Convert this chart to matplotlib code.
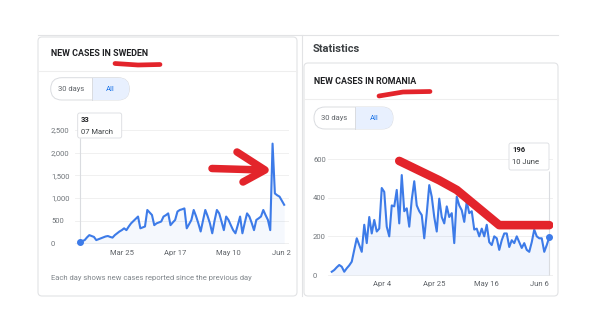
import matplotlib.pyplot as plt
from matplotlib.patches import FancyBboxPatch, Rectangle

W, H = 600, 334

# daily new cases, Sweden, starting 07 March
sweden_cases = [
    33, 50, 70, 130, 180, 160, 140, 70, 90, 110,
    130, 150, 160, 140, 125, 180, 220, 260, 290, 330,
    290, 370, 440, 490, 540, 590, 330, 350, 370, 735,
    680, 625, 400, 440, 460, 480, 590, 620, 660, 400,
    460, 515, 700, 735, 750, 770, 330, 420, 515, 735,
    600, 440, 260, 500, 735, 600, 440, 220, 500, 735,
    660, 480, 290, 590, 515, 400, 290, 220, 400, 590,
    220, 450, 660, 590, 450, 290, 515, 550, 590, 735,
    620, 515, 290, 2200, 1100, 1060, 1030, 940, 850,
]
sweden_days = list(range(len(sweden_cases)))
sweden_tick_days = [18, 41, 64, 87]
sweden_tick_labels = ["Mar 25", "Apr 17", "May 10", "Jun 2"]
sweden_yticks = [0, 500, 1000, 1500, 2000, 2500]
sweden_ylabels = ["0", "500", "1,000", "1,500", "2,000", "2,500"]

# daily new cases, Romania, starting 15 March
romania_cases = [
    17, 26, 40, 52, 43, 17, 35, 50, 69, 130,
    190, 155, 120, 260, 165, 300, 215, 285, 225, 240,
    450, 430, 250, 200, 360, 355, 440, 267, 517, 330,
    345, 250, 390, 485, 360, 330, 310, 190, 320, 465,
    405, 300, 225, 395, 300, 267, 355, 300, 320, 165,
    405, 360, 335, 275, 380, 320, 330, 235, 240, 200,
    240, 200, 260, 170, 155, 200, 190, 130, 180, 215,
    215, 145, 180, 165, 200, 170, 140, 165, 130, 120,
    170, 235, 200, 190, 190, 120, 155, 196,
]
romania_days = list(range(len(romania_cases)))
romania_tick_days = [20, 41, 62, 83]
romania_tick_labels = ["Apr 4", "Apr 25", "May 16", "Jun 6"]
romania_yticks = [0, 200, 400, 600]
romania_ylabels = ["0", "200", "400", "600"]

# hand-drawn trend over the Romania series (day, cases)
trend_days = [27, 43, 50, 67, 87]
trend_cases = [590, 490, 440, 258, 258]

BLUE = "#3d7be8"
RED = "#e3242b"
BORDER = "#e2e3e5"
GREY = "#70757a"
FONT = "Roboto"


def px_axes(fig, x0, y0, x1, y1, zorder):
    ax = fig.add_axes([x0 / W, 1 - y1 / H, (x1 - x0) / W, (y1 - y0) / H], zorder=zorder)
    ax.set_facecolor("none")
    return ax


def pill(ax, x0, y0, x1, y1):
    r = (y1 - y0) / 2
    shape = FancyBboxPatch((x0, y0), x1 - x0, y1 - y0,
                           boxstyle=f"round,pad=0,rounding_size={r}",
                           fc="white", ec="#dadce0", lw=0.7, zorder=2)
    ax.add_patch(shape)
    mid = x0 + (x1 - x0) * 0.52
    sel = Rectangle((mid, y0), x1 - mid, y1 - y0, fc="#e8f0fe", ec="none", zorder=2.1)
    ax.add_patch(sel)
    sel.set_clip_path(shape)
    ax.plot([mid, mid], [y0, y1], color="#dadce0", lw=0.7, zorder=2.2)
    ax.text((x0 + mid) / 2, (y0 + y1) / 2, "30 days", fontsize=5.5, color="#5f6368",
            ha="center", va="center", family=FONT, zorder=3)
    ax.text((mid + x1) / 2, (y0 + y1) / 2, "All", fontsize=5.5, color="#1a73e8",
            ha="center", va="center", family=FONT, zorder=3)


def tooltip(ax, x0, y0, x1, y1, value, date):
    box = FancyBboxPatch((x0, y0), x1 - x0, y1 - y0, boxstyle="round,pad=0,rounding_size=2",
                         fc="white", ec="#dadce0", lw=0.6, zorder=4)
    ax.add_patch(box)
    ax.text(x0 + 3, y0 + 7, value, fontsize=5.5, weight="bold", color="#202124",
            va="center", family=FONT, zorder=5)
    ax.text(x0 + 3, y0 + 19, date, fontsize=5.5, color="#3c4043",
            va="center", family=FONT, zorder=5)


def style_chart(ax, yticks, ylabels, xticks, xlabels, ypad):
    for s in ax.spines.values():
        s.set_visible(False)
    ax.set_yticks(yticks, ylabels)
    ax.set_xticks(xticks, xlabels)
    ax.tick_params(axis="y", length=0, pad=ypad, labelsize=5.5, labelcolor=GREY)
    ax.tick_params(axis="x", length=0, pad=1.5, labelsize=5.5, labelcolor="#5f6368")
    for lbl in ax.get_yticklabels() + ax.get_xticklabels():
        lbl.set_family(FONT)
    for lbl in ax.get_yticklabels():
        lbl.set_ha("left")
    ax.grid(axis="y", color="#eeeeee", lw=0.6)
    ax.set_axisbelow(True)


fig = plt.figure(figsize=(W / 100, H / 100), dpi=100)
fig.patch.set_facecolor("white")

# page chrome in pixel coordinates
page = px_axes(fig, 0, 0, W, H, zorder=0)
page.set_xlim(0, W)
page.set_ylim(H, 0)
page.axis("off")

page.plot([38, 558], [35, 35], color=BORDER, lw=0.8)
page.add_patch(FancyBboxPatch((38, 37), 259, 259, boxstyle="round,pad=0,rounding_size=4",
                              fc="white", ec=BORDER, lw=0.8))
page.plot([38, 297], [70.5, 70.5], color="#eeeeee", lw=0.8)
page.text(51, 53, "NEW CASES IN SWEDEN", fontsize=6.4, weight="bold", color="#202124",
          va="center", family=FONT)
pill(page, 50.7, 77.7, 129.3, 100)
page.text(51, 278, "Each day shows new cases reported since the previous day",
          fontsize=5.5, color="#80868b", va="center", family=FONT)

page.plot([302, 302], [35, 296], color=BORDER, lw=0.8)
page.text(313, 49, "Statistics", fontsize=8, weight="bold", color="#3c4043",
          va="center", family=FONT)
page.add_patch(FancyBboxPatch((304, 63), 254, 233, boxstyle="round,pad=0,rounding_size=4",
                              fc="white", ec=BORDER, lw=0.8))
page.plot([304, 558], [98.5, 98.5], color="#eeeeee", lw=0.8)
page.text(314, 82, "NEW CASES IN ROMANIA", fontsize=6.4, weight="bold", color="#202124",
          va="center", family=FONT)
pill(page, 314, 107, 393, 129)

# Sweden chart
sw = px_axes(fig, 75.4, 125.5, 288.8, 247.8, zorder=1)
sw.set_xlim(-2, 90)
sw.set_ylim(-100, 2600)
style_chart(sw, sweden_yticks, sweden_ylabels, sweden_tick_days, sweden_tick_labels, 17.6)
sw.vlines(sweden_days[0], 0, 2330, color="#dadce0", lw=0.8)
sw.fill_between(sweden_days, sweden_cases, 0, color=BLUE, alpha=0.05, lw=0)
sw.plot(sweden_days, sweden_cases, color=BLUE, lw=1.5, solid_joinstyle="round")
sw.plot(sweden_days[0], sweden_cases[0], "o", ms=4, color=BLUE)

# Romania chart
ro = px_axes(fig, 328, 147.4, 553, 278.9, zorder=1)
ro.set_xlim(-1.5, 88.5)
ro.set_ylim(-20, 660)
style_chart(ro, romania_yticks, romania_ylabels, romania_tick_days, romania_tick_labels, 10.8)
ro.vlines(romania_days[-1], 0, 540, color="#dadce0", lw=0.8)
ro.fill_between(romania_days, romania_cases, 0, color=BLUE, alpha=0.07, lw=0)
ro.plot(romania_days, romania_cases, color=BLUE, lw=1.5, solid_joinstyle="round")
ro.plot(romania_days[-1], romania_cases[-1], "o", ms=4, color=BLUE)
ro.plot(trend_days, trend_cases, color=RED, lw=6.2, solid_capstyle="round",
        solid_joinstyle="round", zorder=5)

# overlay: tooltips and red marker strokes
top = px_axes(fig, 0, 0, W, H, zorder=2)
top.set_xlim(0, W)
top.set_ylim(H, 0)
top.axis("off")
tooltip(top, 77.7, 113, 121.7, 138, str(sweden_cases[0]), "07 March")
tooltip(top, 509, 143, 549, 170, str(romania_cases[-1]), "10 June")

red = dict(color=RED, solid_capstyle="round", solid_joinstyle="round")
top.plot([115, 138, 160], [63.5, 65, 64.5], lw=3.4, **red)
top.plot([379, 403, 430], [96, 92, 91.5], lw=3.4, **red)
top.plot([212, 263], [168.5, 170], lw=5.4, **red)
top.plot([237, 265, 243], [152, 170, 182], lw=5.4, **red)

fig.savefig("out.png", dpi=100, facecolor="white")
plt.close(fig)
